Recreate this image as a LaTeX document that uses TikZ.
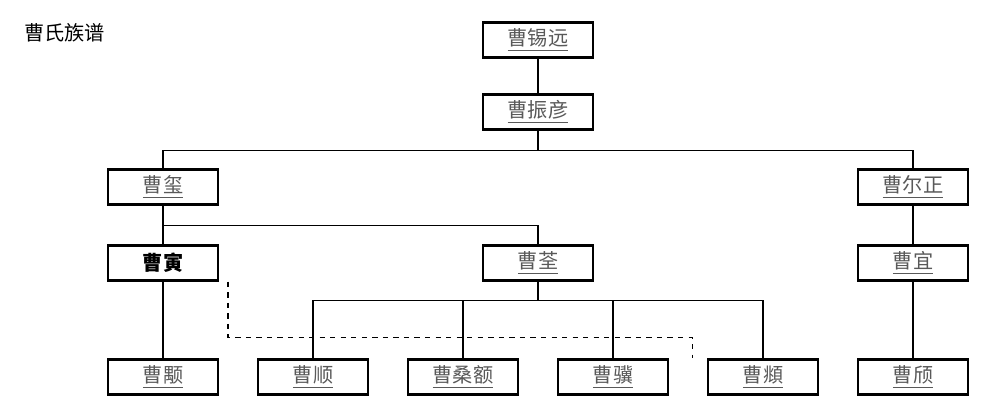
\documentclass[tikz,border=0pt]{standalone}
\usepackage{fontspec}
\setmainfont{Noto Sans CJK SC}
\begin{document}
\begin{tikzpicture}[x=0.02cm, y=-0.02cm,
    person/.style={rectangle, draw, line width=1.4pt, minimum width=2.2cm, minimum height=0.7cm, inner sep=0pt, font=\fontsize{11.5}{13}\selectfont, text=black!65},
    main/.style={person, text=black, font=\fontsize{11.5}{13}\selectfont\bfseries},
    link/.style={line width=0.6pt}
]
\useasboundingbox (0,0) rectangle (1000,415);
\node[anchor=west, font=\fontsize{11.5}{13}\selectfont] (title) at (18,33) {曹氏族谱};

% generations
\node[person] (xiyuan) at (538,40) {\underline{曹锡远}};
\node[person] (zhenyan) at (538,112) {\underline{曹振彦}};
\node[person] (xi) at (163,187) {\underline{曹玺}};
\node[person] (erzheng) at (913,187) {\underline{曹尔正}};
\node[main] (yin) at (163,263) {曹寅};
\node[person] (quan) at (538,263) {\underline{曹荃}};
\node[person] (yi) at (913,263) {\underline{曹宜}};
\node[person] (yong) at (163,377) {\underline{曹颙}};
\node[person] (shun) at (313,377) {\underline{曹顺}};
\node[person] (sange) at (463,377) {\underline{曹桑额}};
\node[person] (ji) at (613,377) {\underline{曹骥}};
\node[person] (fu) at (763,377) {\underline{曹頫}};
\node[person] (qi) at (913,377) {\underline{曹颀}};

% connectors
\draw[link] (xiyuan) -- (zhenyan);
\draw[link] (zhenyan.south) -- ++(0,20) coordinate (b1);
\draw[link] (xi.north) |- (b1) -| (erzheng.north);
\draw[link] (xi) -- (yin);
\draw[link] (xi.south) ++(0,20) coordinate (b2) -| (quan.north);
\draw[link] (erzheng) -- (yi);
\draw[link] (yin) -- (yong);
\draw[link] (yi) -- (qi);
\draw[link] (quan.south) -- ++(0,19) coordinate (b3);
\draw[link] (shun.north) |- (b3) -| (fu.north);
\draw[link] (sange.north) -- (sange.north |- b3);
\draw[link] (ji.north) -- (ji.north |- b3);
\draw[link, dashed] ([xshift=37]yin.south) -- ++(0,56) -| ([xshift=-40]fu.north);
\end{tikzpicture}
\end{document}
